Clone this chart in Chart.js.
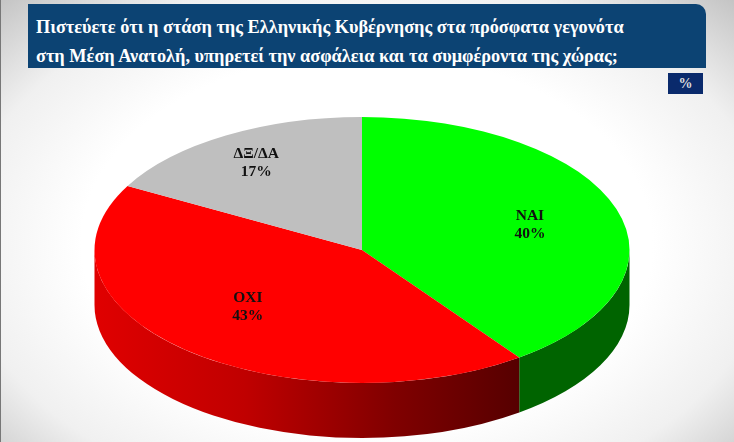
<!DOCTYPE html>
<html>
<head>
<meta charset="utf-8">
<script src="https://cdn.jsdelivr.net/npm/chart.js@4/dist/chart.umd.min.js"></script>
<style>
    html, body { margin: 0; padding: 0; width: 734px; height: 442px; overflow: hidden; }
    body {
        position: relative;
        background: radial-gradient(ellipse at 50% 55%, #ffffff 55%, #f0f0f0 78%, #c4c4c4 100%);
        font-family: "Liberation Serif", serif;
    }
    #edge { position: absolute; left: 0; top: 0; width: 1px; height: 442px; background: #777; }
    #chart { position: absolute; left: 0; top: 0; }
    #header {
        position: absolute; left: 28px; top: 4px; width: 650px; height: 64px;
        padding-left: 8px; padding-right: 20px;
        background: #0c4373; color: #fff; border-top-right-radius: 10px;
        font-weight: bold; font-size: 18.3px; line-height: 29px;
        box-sizing: content-box; white-space: nowrap;
    }
    #header div:first-child { padding-top: 9px; }
    #unit {
        position: absolute; left: 668px; top: 73px; width: 35px; height: 21px;
        background: #0a2a6c; color: #ddd; font-size: 14px; line-height: 21px;
        text-align: center; font-weight: bold;
    }
</style>
</head>
<body>
<div id="edge"></div>
<canvas id="chart" width="734" height="442"></canvas>
<div id="header">
    <div>Πιστεύετε ότι η στάση της Ελληνικής Κυβέρνησης στα πρόσφατα γεγονότα</div>
    <div>στη Μέση Ανατολή, υπηρετεί την ασφάλεια και τα συμφέροντα της χώρας;</div>
</div>
<div id="unit">%</div>
<script>
const categories = ['ΝΑΙ', 'ΟΧΙ', 'ΔΞ/ΔΑ'];
const values = [40, 43, 17];
const sliceColors = ['#00ff00', '#ff0000', '#bfbfbf'];

// squash the round pie into the tilted ellipse of the reference
const tilt = 0.497;
const depth = 55;
const labelRadius = [0.66, 0.6, 0.77];
const labelNudge = [[0, 2], [-8, -3], [-1, 1]];

const pie3d = {
    id: 'pie3d',
    beforeDatasetsDraw(chart) {
        const ctx = chart.ctx;
        const arcs = chart.getDatasetMeta(0).data;

        // side wall, only the part of each slice facing the viewer
        arcs.forEach((arc, i) => {
            const a = Math.max(arc.startAngle, 0);
            const b = Math.min(arc.endAngle, Math.PI);
            if (b <= a) return;
            const rx = arc.outerRadius;
            const ry = rx * tilt;
            let fill = '#006400';
            if (i === 1) {
                fill = ctx.createLinearGradient(arc.x - rx, 0, arc.x + rx * 0.6, 0);
                fill.addColorStop(0, '#e00000');
                fill.addColorStop(0.35, '#c00000');
                fill.addColorStop(0.7, '#800000');
                fill.addColorStop(1, '#550000');
            }
            ctx.beginPath();
            ctx.ellipse(arc.x, arc.y, rx, ry, 0, a, b);
            ctx.ellipse(arc.x, arc.y + depth, rx, ry, 0, b, a, true);
            ctx.closePath();
            ctx.fillStyle = fill;
            ctx.fill();
        });

        ctx.save();
        const cy = arcs[0].y;
        ctx.translate(0, cy);
        ctx.scale(1, tilt);
        ctx.translate(0, -cy);
    },
    afterDatasetsDraw(chart) {
        const ctx = chart.ctx;
        ctx.restore();

        // slice captions
        ctx.fillStyle = '#111';
        ctx.font = 'bold 15.5px "Liberation Serif", serif';
        ctx.textAlign = 'center';
        ctx.textBaseline = 'middle';
        chart.getDatasetMeta(0).data.forEach((arc, i) => {
            const mid = (arc.startAngle + arc.endAngle) / 2;
            const x = arc.x + Math.cos(mid) * arc.outerRadius * labelRadius[i] + labelNudge[i][0];
            const y = arc.y + Math.sin(mid) * arc.outerRadius * tilt * labelRadius[i] + labelNudge[i][1];
            ctx.fillText(categories[i], x, y - 9);
            ctx.fillText(values[i] + '%', x, y + 9);
        });
    }
};

new Chart(document.getElementById('chart'), {
    type: 'pie',
    data: {
        labels: categories,
        datasets: [{
            data: values,
            backgroundColor: sliceColors,
            borderWidth: 0
        }]
    },
    options: {
        responsive: false,
        animation: false,
        radius: 267.5,
        layout: { padding: { top: 58, right: 10 } },
        plugins: {
            legend: { display: false },
            tooltip: { enabled: false }
        }
    },
    plugins: [pie3d]
});
</script>
</body>
</html>
